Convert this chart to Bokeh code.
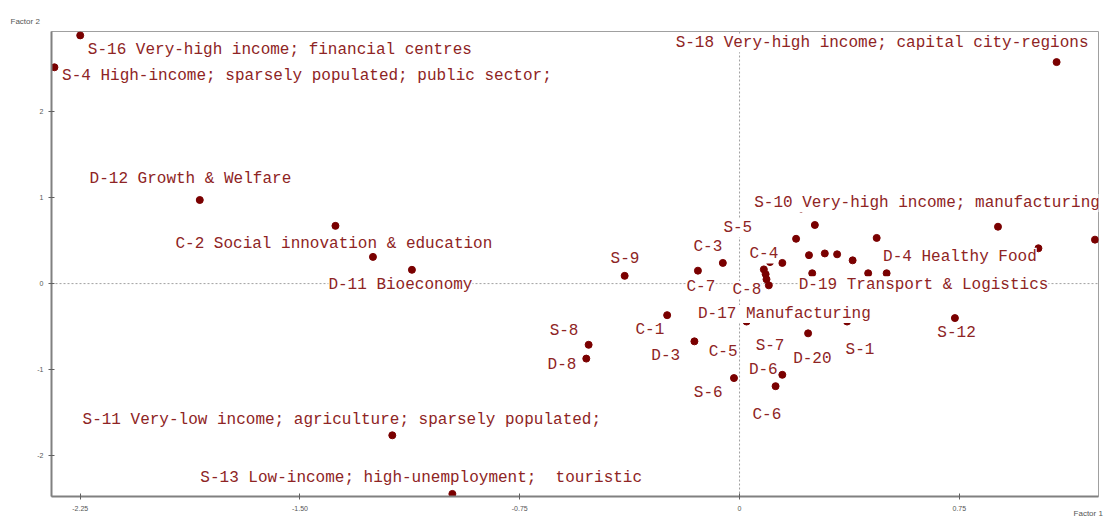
from bokeh.plotting import figure
from bokeh.models import (ColumnDataSource, LabelSet, Span, FixedTicker, Range1d,
                          LinearAxis, Title)
from bokeh.core.properties import value
from bokeh.embed import file_html
from bokeh.resources import INLINE

# ---- data ----
point_x = [-2.25, -2.338, 1.082, -1.842, -1.379, -1.251, -1.118, -0.392, -0.142, -0.057,
           0.146, 0.193, 0.257, 0.237, 0.291, 0.333, 0.386, 0.468, 0.248, 0.439,
           0.502, 0.083, 0.089, 0.092, 0.100, 0.882, 1.213, 1.020, -0.247, -0.154,
           -0.019, 0.146, 0.123, 0.234, 0.024, 0.367, -0.515, -0.523, 0.735, -1.185,
           -0.980, 0.104, 0.210]
point_y = [2.88, 2.51, 2.57, 0.97, 0.67, 0.31, 0.16, 0.09, 0.15, 0.24,
           0.24, 0.52, 0.68, 0.33, 0.35, 0.34, 0.27, 0.53, 0.12, 0.12,
           0.12, 0.165, 0.11, 0.05, -0.02, 0.66, 0.51, 0.41, -0.366, -0.67,
           -1.096, -1.058, -1.19, -0.577, -0.44, -0.44, -0.71, -0.87, -0.40, -1.76,
           -2.44, 0.25, 0.87]

label_text = ["S-16 Very-high income; financial centres",
              "S-4 High-income; sparsely populated; public sector;",
              "S-18 Very-high income; capital city-regions",
              "D-12 Growth & Welfare",
              "C-2 Social innovation & education",
              "D-11 Bioeconomy",
              "S-10 Very-high income; manufacturing",
              "S-5", "C-3", "C-4", "C-7", "C-8",
              "D-19 Transport & Logistics",
              "S-9",
              "D-4 Healthy Food",
              "D-17 Manufacturing",
              "C-1", "S-8", "D-8", "D-3", "C-5", "S-7", "S-1", "D-20", "D-6",
              "S-6", "C-6", "S-12",
              "S-11 Very-low income; agriculture; sparsely populated;",
              "S-13 Low-income; high-unemployment;\u00a0 touristic"]
label_x = [-2.224, -2.312, -0.218, -2.218, -1.925, -1.403, 0.050,
           -0.055, -0.157, 0.034, -0.181, -0.024,
           0.202, -0.440, 0.490, -0.142,
           -0.355, -0.648, -0.655, -0.301, -0.105, 0.055, 0.362, 0.183, 0.032,
           -0.156, 0.044, 0.675, -2.242, -1.840]
label_y = [2.714, 2.414, 2.789, 1.215, 0.465, -0.014, 0.934,
           0.646, 0.427, 0.338, -0.035, -0.074,
           -0.020, 0.288, 0.311, -0.354,
           -0.535, -0.554, -0.942, -0.835, -0.789, -0.720, -0.769, -0.873, -1.008,
           -1.265, -1.519, -0.573, -1.585, -2.257]

x_ticks = [-2.25, -1.5, -0.75, 0, 0.75]
x_tick_labels = ["-2.25", "-1.50", "-0.75", "0", "0.75"]
y_ticks = [-2, -1, 0, 1, 2]
y_tick_labels = ["-2", "-1", "0", "1", "2"]
x_title_pos = [1.19]
x_title = ["Factor 1"]
y_title = "Factor 2"

p = figure(width=1104, height=520, output_backend="svg", toolbar_location=None,
           x_range=Range1d(-2.348, 1.225), y_range=Range1d(-2.47, 2.925),
           min_border_left=51, min_border_right=6, min_border_top=31, min_border_bottom=20)
p.grid.visible = False
p.outline_line_color = "#a0a0a0"
p.outline_line_width = 1
p.background_fill_color = "white"
p.border_fill_color = "white"

for ax, ticks, labs in ((p.xaxis[0], x_ticks, x_tick_labels), (p.yaxis[0], y_ticks, y_tick_labels)):
    ax.ticker = FixedTicker(ticks=ticks)
    ax.major_label_overrides = dict(zip(ticks, labs))
    ax.axis_line_color = "#808080"
    ax.axis_line_width = 2
    ax.major_tick_line_color = "#606060"
    ax.major_tick_in = 3
    ax.major_tick_out = 3
    ax.minor_tick_line_color = None
    ax.major_label_text_font = "Liberation Sans"
    ax.major_label_text_font_size = "7px"
    ax.major_label_text_color = "#555555"
p.xaxis.major_label_standoff = 6
p.yaxis.major_label_standoff = 5

# "Factor 1" as a second, bare axis below the x axis
fx = LinearAxis(ticker=FixedTicker(ticks=x_title_pos),
                major_label_overrides=dict(zip(x_title_pos, x_title)),
                axis_line_color=None, major_tick_line_color=None, minor_tick_line_color=None,
                major_tick_in=0, major_tick_out=0, major_label_standoff=-5,
                major_label_text_font="Liberation Sans", major_label_text_font_size="8px",
                major_label_text_color="#555555")
p.add_layout(fx, "below")

p.add_layout(Title(text=y_title, align="left", offset=-41, standoff=11,
                   text_font="Liberation Sans", text_font_size="8px",
                   text_color="#555555", text_font_style="normal"), "above")

p.add_layout(Span(location=0, dimension="height", line_color="#a0a0a0",
                  line_dash="2 2", line_width=1, level="underlay"))
p.add_layout(Span(location=0, dimension="width", line_color="#a0a0a0",
                  line_dash="2 2", line_width=1, level="underlay"))

pts = ColumnDataSource(dict(x=point_x, y=point_y))
p.scatter("x", "y", source=pts, size=7, fill_color="#7a0000", line_color="#7a0000")

labs = ColumnDataSource(dict(x=label_x, y=label_y, t=label_text))
p.add_layout(LabelSet(x="x", y="y", text="t", source=labs,
                      text_font=value("Liberation Mono"), text_font_size=value("16px"),
                      text_color="#8e2424", text_align="left", text_baseline="middle",
                      background_fill_color="white"))

open("out.html", "w").write(file_html(p, INLINE))
